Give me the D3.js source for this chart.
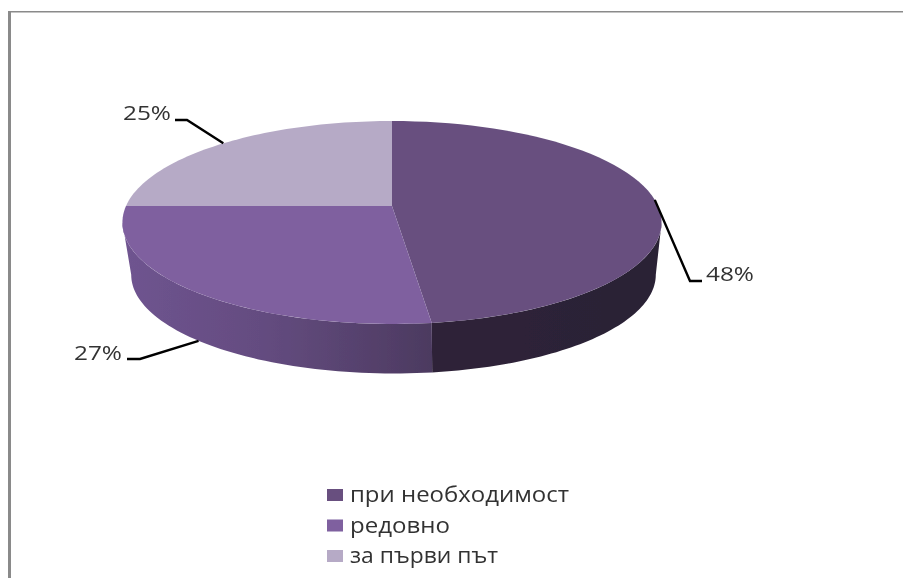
<!DOCTYPE html>
<html>
<head>
<meta charset="utf-8">
<script src="https://cdn.jsdelivr.net/npm/d3@7"></script>
<style>
html, body { margin: 0; padding: 0; background: #fff; }
svg { display: block; }
text { font-family: "Open Sans", sans-serif; fill: #333; }
</style>
</head>
<body>
<svg id="chart" width="903" height="578"></svg>
<script>
const categories = ["при необходимост", "редовно", "за първи път"];
const values = [48, 27, 25];
const tickLabels = ["48%", "27%", "25%"];

const colors = ["#67507f", "#7f619f", "#b6aac6"];

const root = d3.select("#chart");
const defs = root.append("defs");

// the source picture is a slightly soft screenshot
defs.append("filter").attr("id", "soft")
    .append("feGaussianBlur").attr("stdDeviation", 0.4);

const svg = root.append("g").attr("filter", "url(#soft)");

// frame
svg.append("path")
    .attr("d", "M9.5,578V11.75H903")
    .attr("fill", "none")
    .attr("stroke", "#8a8a8a")
    .attr("stroke-width", 1.5);
svg.append("rect").attr("x", 8).attr("y", 11).attr("width", 3).attr("height", 567).attr("fill", "#8a8a8a");

// the disc is a circle seen in perspective, so the middle is not the ellipse centre
const persp = 0.1626;
const top_face = {x: 392, y: 206, a: 266, b: 98.8};
const bottom_face = {x: 393.5, y: 258.7, a: 258.8, b: 96.1};

const project = function(face, angle) {
    const u = Math.sin(angle), v = Math.cos(angle);
    const w = 1 + persp * v;
    return [face.x + face.a * u / w, face.y - face.b * v / w];
};

const arcPoints = function(face, a0, a1) {
    return d3.range(0, 61).map(i => project(face, a0 + (a1 - a0) * i / 60));
};

const line = d3.line();

const slices = d3.pie().sort(null).value(d => d)(values);
const color = d3.scaleOrdinal().domain(categories).range(colors);

const wallStops = [
    [["0%", "#2f2339"], ["100%", "#2a2035"]],
    [["0%", "#6f5490"], ["45%", "#644c80"], ["100%", "#4c3a60"]]
];
wallStops.forEach(function(stops, i) {
    const g = defs.append("linearGradient").attr("id", "wall" + i);
    stops.forEach(s => g.append("stop").attr("offset", s[0]).attr("stop-color", s[1]));
});

// only the front of the rim can be seen, between the two silhouette points
const visibleFrom = Math.PI / 2 + Math.asin(persp);
const visibleTo = 3 * Math.PI / 2 - Math.asin(persp);

slices.forEach(function(s, i) {
    const a0 = Math.max(s.startAngle, visibleFrom);
    const a1 = Math.min(s.endAngle, visibleTo);
    if (a1 <= a0) return;
    const pts = arcPoints(top_face, a0, a1).concat(arcPoints(bottom_face, a0, a1).reverse());
    svg.append("path")
        .attr("d", line(pts) + "Z")
        .attr("fill", "url(#wall" + i + ")");
});

slices.forEach(function(s, i) {
    const pts = [[top_face.x, top_face.y]].concat(arcPoints(top_face, s.startAngle, s.endAngle));
    svg.append("path")
        .attr("d", line(pts) + "Z")
        .attr("fill", color(categories[i]));
});

// leader lines and percent labels, stretched like the source
const labelLayout = [
    {elbow: [690, 281], end: [702, 281], tx: 706, ty: 281},
    {elbow: [140, 359], end: [127, 359], tx: 74, ty: 360},
    {elbow: [187, 120], end: [175, 120], tx: 123, ty: 120}
];

slices.forEach(function(s, i) {
    const mid = (s.startAngle + s.endAngle) / 2;
    const rim = Math.cos(mid) < -0.5 ? bottom_face : top_face;
    const l = labelLayout[i];
    svg.append("path")
        .attr("d", line([project(rim, mid), l.elbow, l.end]))
        .attr("fill", "none")
        .attr("stroke", "#000")
        .attr("stroke-width", 2.4);
    svg.append("text")
        .attr("x", l.tx)
        .attr("y", l.ty)
        .attr("font-size", 20)
        .attr("textLength", 48)
        .attr("lengthAdjust", "spacingAndGlyphs")
        .text(tickLabels[i]);
});

// legend
const legendY = d3.scalePoint().domain(categories).range([495, 556]);
const legendWidths = [219, 100, 148];

categories.forEach(function(c, i) {
    svg.append("rect")
        .attr("x", 327)
        .attr("y", legendY(c) - 6)
        .attr("width", 16)
        .attr("height", 12)
        .attr("fill", color(c));
    svg.append("text")
        .attr("x", 350)
        .attr("y", legendY(c) + 7)
        .attr("font-size", 22)
        .attr("textLength", legendWidths[i])
        .attr("lengthAdjust", "spacingAndGlyphs")
        .text(c);
});
</script>
</body>
</html>
